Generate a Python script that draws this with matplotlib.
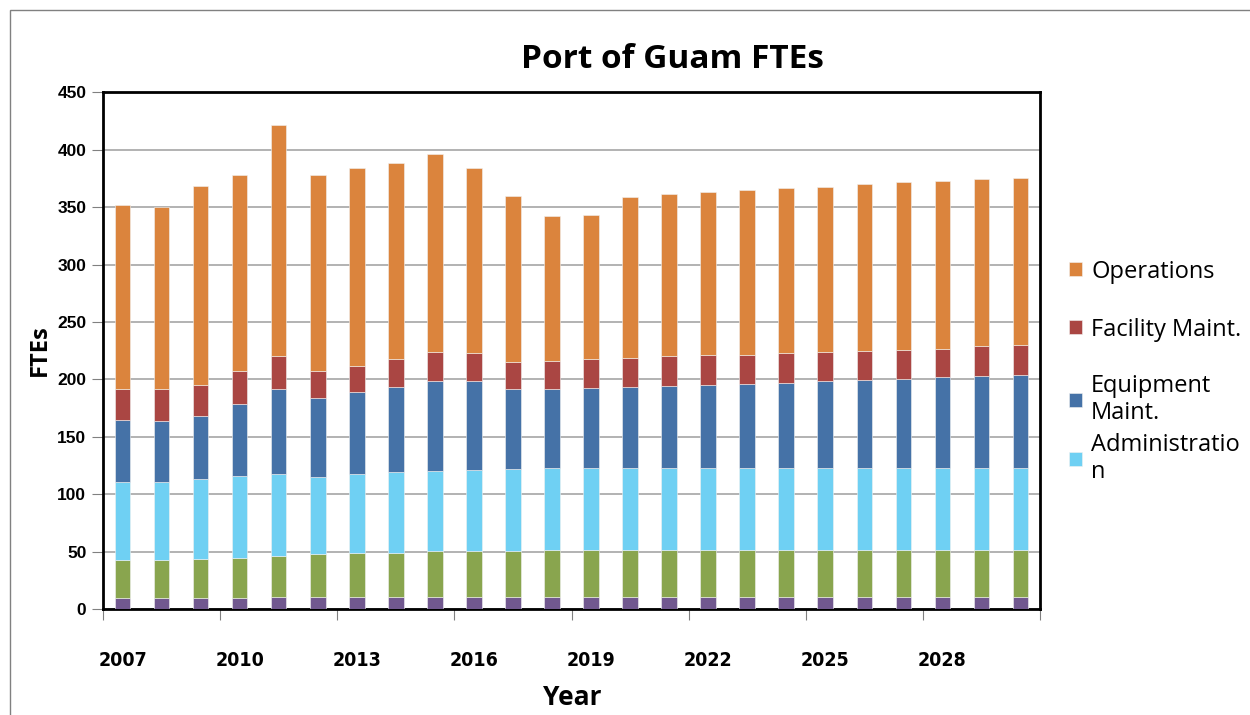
import numpy as np
import matplotlib.pyplot as plt
from matplotlib.patches import Rectangle

# datos
anios = [str(a) for a in range(2007, 2031)]
otros1 = [10, 10, 10, 10, 11, 11, 11, 11, 11, 11, 11, 11, 11, 11, 11, 11, 11, 11, 11, 11, 11, 11, 11, 11]
otros2 = [32.4, 32.4, 33.6, 34.5, 35.4, 36.6, 38, 38, 39.3, 39.3, 39.3, 40.5, 40.5, 40.5, 40.5, 40.5,
          40.5, 40.5, 40.5, 40.5, 40.5, 40.5, 40.5, 40.5]
administracion = [68.6, 68.6, 69.4, 71.5, 71.6, 67.4, 69, 70, 69.7, 70.7, 71.3, 71.3, 71.3, 71.3, 71.3, 71.3,
                  71.3, 71.3, 71.3, 71.3, 71.3, 71.3, 71.3, 71.3]
equipo = [54, 53, 55, 62.5, 73.5, 68.6, 71.3, 74.3, 79, 77.4, 69.9, 68.7, 69.9, 70.5, 71.4, 72.6,
          73.5, 74.4, 75.6, 76.5, 77.7, 79.5, 80.4, 81.3]
instalaciones = [26.5, 27.5, 27, 28.5, 29.1, 23.4, 22.7, 24.7, 24.7, 24.4, 23.5, 24.3, 25.3, 25.7, 26.1, 25.6,
                 25.2, 25.6, 25.3, 25.3, 25.3, 24.4, 25.6, 25.6]
operaciones = [160.5, 158.9, 173.5, 171, 201.1, 171, 172, 170, 172.8, 161.6, 144.7, 126.5, 125.2, 139.8,
               141.5, 142, 143.3, 143.9, 143.8, 145.1, 146, 146, 146, 146]

series = [
    (otros1, '#71588F', None),
    (otros2, '#89A54E', None),
    (administracion, '#6FD0F3', 'Administratio\nn'),
    (equipo, '#4572A7', 'Equipment\nMaint.'),
    (instalaciones, '#AA4643', 'Facility Maint.'),
    (operaciones, '#DB843D', 'Operations'),
]

fig = plt.figure(figsize=(12.5, 7.15), dpi=100)
ax = fig.add_axes([0.0824, 0.148, 0.7496, 0.723])

x = np.arange(len(anios))
base = np.zeros(len(anios))
barras = {}
for valores, color, etiqueta in series:
    b = ax.bar(x, valores, width=0.4, bottom=base, color=color, zorder=3,
               edgecolor='#f2f2f2', linewidth=0.4)
    if etiqueta:
        barras[etiqueta] = b
    base = base + np.array(valores)

ax.set_xlim(-0.5, len(anios) - 0.5)
ax.set_ylim(0, 450)
ax.set_yticks(range(0, 451, 50))
ax.yaxis.grid(True, color='#a6a6a6', linewidth=1.2, zorder=0)

ax.set_xticks(np.arange(-0.5, len(anios), 3))
ax.set_xticklabels([])
ax.set_xticks(np.arange(0, len(anios) - 2, 3), minor=True)
ax.set_xticklabels(anios[::3], minor=True, fontsize=14, fontweight='bold',
                   family=['DejaVu Sans'], stretch='condensed')
ax.tick_params(axis='x', which='major', length=8, color='#808080')
ax.tick_params(axis='x', which='minor', length=0, pad=30)
ax.tick_params(axis='y', length=8, color='#808080', pad=4)
for t in ax.get_yticklabels():
    t.set_fontsize(12.5)
    t.set_fontweight('bold')
    t.set_family(['Liberation Sans', 'DejaVu Sans'])

for s in ax.spines.values():
    s.set_linewidth(2)
    s.set_color('black')

fig.text(0.538, 0.917, 'Port of Guam FTEs', ha='center', va='center', fontsize=24,
         fontweight='bold', family=['Open Sans', 'DejaVu Sans'])
fig.text(0.458, 0.025, 'Year', ha='center', va='center', fontsize=19,
         fontweight='bold', family=['Open Sans', 'DejaVu Sans'])
fig.text(0.032, 0.51, 'FTEs', ha='center', va='center', fontsize=17, rotation=90,
         fontweight='bold', family=['Open Sans', 'DejaVu Sans'])

# leyenda: una entrada por posicion, como en el original
posiciones = {'Operations': 0.620, 'Facility Maint.': 0.539,
              'Equipment\nMaint.': 0.441, 'Administratio\nn': 0.359}
for etiqueta, ypos in posiciones.items():
    leg = fig.legend([barras[etiqueta]], [etiqueta], loc='center left',
                     bbox_to_anchor=(0.838, ypos), frameon=False,
                     handlelength=0.55, handleheight=0.55, handletextpad=0.4,
                     prop={'family': ['Open Sans', 'DejaVu Sans'], 'size': 17})
    for t in leg.get_texts():
        t.set_linespacing(1.2)

fig.patches.append(Rectangle((0.008, -0.02), 1.2, 1.006, transform=fig.transFigure,
                             fill=False, edgecolor='#808080', linewidth=1))

fig.savefig('out.png', dpi=100)
